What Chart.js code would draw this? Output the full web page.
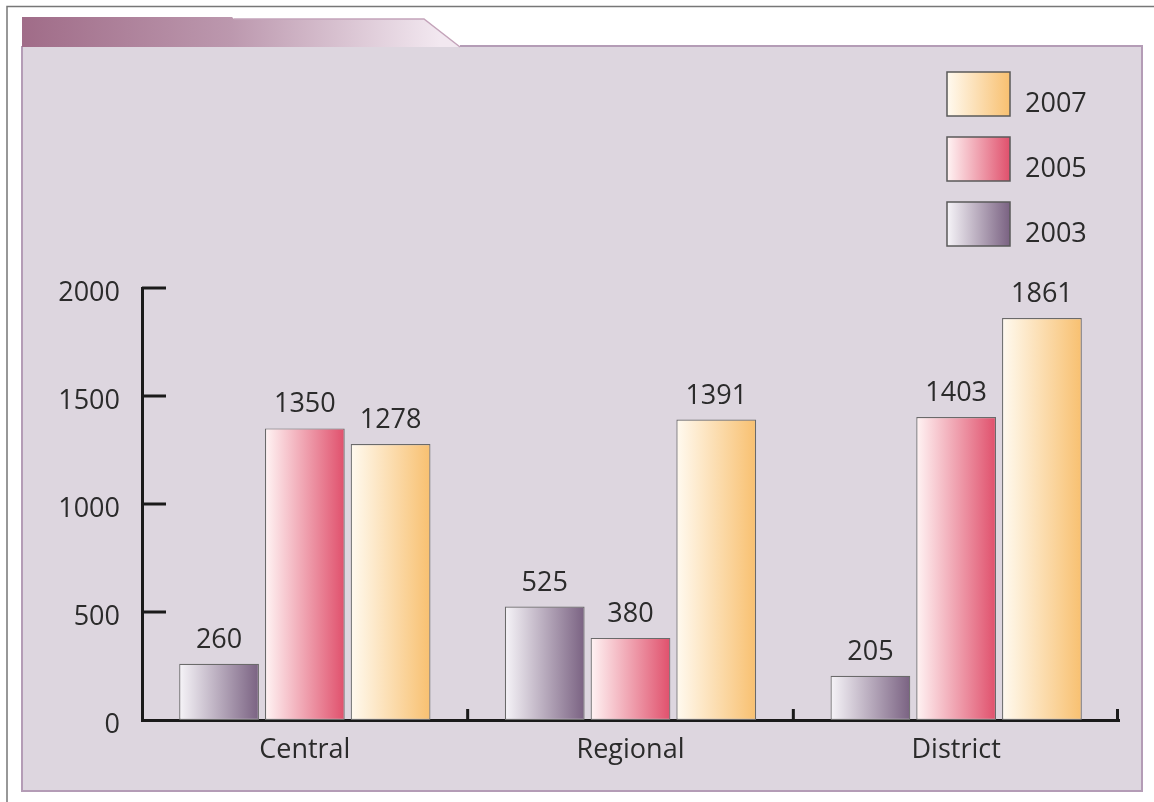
<!DOCTYPE html>
<html>
<head>
<meta charset="utf-8">
<script src="https://cdn.jsdelivr.net/npm/chart.js@4.4.1/dist/chart.umd.min.js"></script>
<style>
  html, body { margin: 0; padding: 0; background: #ffffff; }
  #wrap { width: 1154px; height: 802px; position: relative; }
</style>
</head>
<body>
<div id="wrap"><canvas id="chart" width="1154" height="802"></canvas></div>
<script>
// Values per office level
var levels   = ['Central', 'Regional', 'District'];
var years    = ['2003', '2005', '2007'];
var vals2003 = [260, 525, 205];
var vals2005 = [1350, 380, 1403];
var vals2007 = [1278, 1391, 1861];
var yTicks   = [0, 500, 1000, 1500, 2000];

// left (light) and right (dark) colours of each year's gradient
var shades = [
    ['#f6f4f8', '#7a6282'],
    ['#fff4f4', '#e0506c'],
    ['#fffaf0', '#f8c070']
];

var CAT_PCT = 0.79;
var BAR_PCT = 0.93;
var FONT = '"Open Sans", "Noto Sans", sans-serif';
var INK = '#2b2b2b';

function hGrad(ctx, x0, x1, pair) {
    var g = ctx.createLinearGradient(x0, 0, x1, 0);
    g.addColorStop(0, pair[0]);
    g.addColorStop(1, pair[1]);
    return g;
}

// work out where a bar sits so the gradient runs across its own width
function barFill(c) {
    var chart = c.chart;
    var pair = shades[c.datasetIndex];
    var xs = chart.scales.x;
    if (!chart.chartArea || !xs || c.dataIndex === undefined) return pair[1];
    var catW = xs.width / levels.length;
    var groupW = catW * CAT_PCT;
    var slot = groupW / years.length;
    var w = slot * BAR_PCT;
    var centre = xs.getPixelForValue(c.dataIndex) - groupW / 2 + slot * (c.datasetIndex + 0.5);
    return hGrad(chart.ctx, centre - w / 2, centre + w / 2, pair);
}

// page frame, title tab and lavender panel
var backdrop = {
    id: 'backdrop',
    beforeDraw: function(chart) {
        var ctx = chart.ctx;
        ctx.save();
        ctx.fillStyle = '#ffffff';
        ctx.fillRect(0, 0, 1154, 802);

        ctx.strokeStyle = '#777777';
        ctx.lineWidth = 1.5;
        ctx.beginPath();
        ctx.moveTo(7, 802); ctx.lineTo(7, 6.5); ctx.lineTo(1154, 6.5);
        ctx.stroke();

        ctx.fillStyle = '#ddd6df';
        ctx.fillRect(22, 46, 1120, 745);
        ctx.strokeStyle = '#b49cb6';
        ctx.lineWidth = 2;
        ctx.beginPath();
        ctx.moveTo(460, 46); ctx.lineTo(1142, 46); ctx.lineTo(1142, 791);
        ctx.lineTo(22, 791); ctx.lineTo(22, 46);
        ctx.stroke();

        // tab
        var tg = ctx.createLinearGradient(22, 0, 440, 0);
        tg.addColorStop(0, '#a06c88');
        tg.addColorStop(0.5, '#bc98ae');
        tg.addColorStop(1, '#f2e8f0');
        ctx.fillStyle = tg;
        ctx.beginPath();
        ctx.moveTo(22, 17);
        ctx.lineTo(232, 17);
        ctx.lineTo(234, 19);
        ctx.lineTo(424, 19);
        ctx.lineTo(460, 47);
        ctx.lineTo(22, 47);
        ctx.closePath();
        ctx.fill();
        ctx.strokeStyle = '#c4a4ba';
        ctx.lineWidth = 1.5;
        ctx.beginPath();
        ctx.moveTo(234, 19); ctx.lineTo(424, 19); ctx.lineTo(460, 47);
        ctx.stroke();
        ctx.restore();
    }
};

// ticks pointing inward, value labels and the legend
var extras = {
    id: 'extras',
    afterDraw: function(chart) {
        var ctx = chart.ctx;
        var ys = chart.scales.y, xs = chart.scales.x;
        var area = chart.chartArea;
        ctx.save();
        ctx.strokeStyle = '#1a1a1a';
        ctx.lineWidth = 3;
        ctx.beginPath();
        yTicks.forEach(function(v) {
            if (v === 0) return;
            var py = ys.getPixelForValue(v);
            ctx.moveTo(area.left, py);
            ctx.lineTo(area.left + 24, py);
        });
        var catW = xs.width / levels.length;
        for (var i = 1; i <= levels.length; i++) {
            var px = xs.left + catW * i;
            if (i === levels.length) px -= 1.5;
            ctx.moveTo(px, area.bottom);
            ctx.lineTo(px, area.bottom - 11);
        }
        ctx.stroke();

        // value above each bar
        ctx.fillStyle = INK;
        ctx.font = '27px ' + FONT;
        ctx.textAlign = 'center';
        ctx.textBaseline = 'alphabetic';
        chart.data.datasets.forEach(function(ds, di) {
            chart.getDatasetMeta(di).data.forEach(function(bar, j) {
                ctx.fillText(String(ds.data[j]), bar.x, bar.y - 16);
            });
        });

        // legend, newest year on top
        var boxX = 947, boxW = 63, boxH = 44;
        var rows = [72, 137, 202];
        ctx.textAlign = 'left';
        for (var r = 0; r < years.length; r++) {
            var di = years.length - 1 - r;
            var y0 = rows[r];
            ctx.fillStyle = hGrad(ctx, boxX, boxX + boxW, shades[di]);
            ctx.fillRect(boxX, y0, boxW, boxH);
            ctx.strokeStyle = '#5a5a5a';
            ctx.lineWidth = 1.5;
            ctx.strokeRect(boxX, y0, boxW, boxH);
            ctx.fillStyle = INK;
            ctx.fillText(chart.data.datasets[di].label, 1025, y0 + 40);
        }
        ctx.restore();
    }
};

var datasets = [vals2003, vals2005, vals2007].map(function(vals, i) {
    return {
        label: years[i],
        data: vals,
        backgroundColor: barFill,
        borderColor: '#6a6a6a',
        borderWidth: 1.2,
        borderSkipped: false,
        categoryPercentage: CAT_PCT,
        barPercentage: BAR_PCT
    };
});

new Chart(document.getElementById('chart'), {
    type: 'bar',
    data: { labels: levels, datasets: datasets },
    options: {
        responsive: false,
        animation: false,
        layout: { padding: { top: 288, right: 35, left: 0, bottom: 0 } },
        plugins: {
            legend: { display: false },
            tooltip: { enabled: false }
        },
        scales: {
            x: {
                afterFit: function(s) { s.height = 82; },
                grid: { display: false },
                border: { display: true, color: '#1a1a1a', width: 3 },
                ticks: { color: INK, font: { family: FONT, size: 27 }, padding: 6 }
            },
            y: {
                min: 0,
                max: 2000,
                afterFit: function(s) { s.width = 142; },
                afterBuildTicks: function(s) {
                    s.ticks = yTicks.map(function(v) { return { value: v }; });
                },
                grid: { display: false },
                border: { display: true, color: '#1a1a1a', width: 3 },
                ticks: {
                    color: INK,
                    font: { family: FONT, size: 27 },
                    padding: 14,
                    labelOffset: 5,
                    callback: function(v) { return String(v); }
                }
            }
        }
    },
    plugins: [backdrop, extras]
});
</script>
</body>
</html>
